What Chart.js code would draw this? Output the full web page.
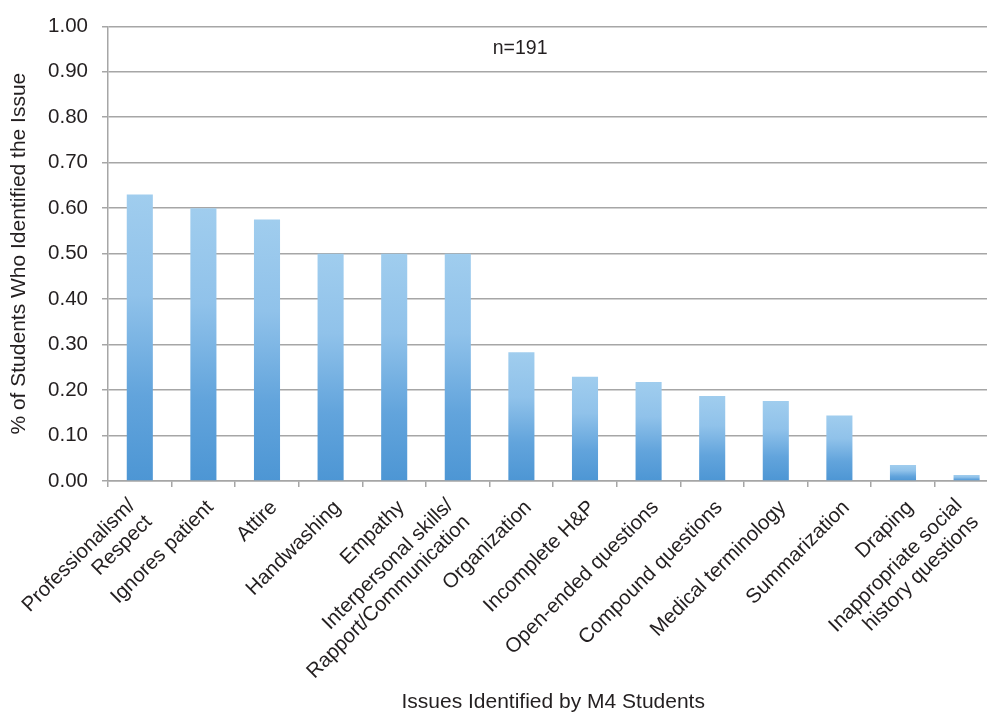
<!DOCTYPE html>
<html>
<head>
<meta charset="utf-8">
<script src="https://cdn.jsdelivr.net/npm/chart.js@4/dist/chart.umd.min.js"></script>
<style>
  html, body { margin: 0; padding: 0; background: #fff; overflow: hidden; }
  #wrap { position: relative; width: 1004px; height: 715px; }
</style>
</head>
<body>
<div id="wrap"><canvas id="c"></canvas></div>
<script>
const categories = [
  ["Professionalism/", "Respect"],
  "Ignores patient",
  "Attire",
  "Handwashing",
  "Empathy",
  ["Interpersonal skills/", "Rapport/Communication"],
  "Organization",
  "Incomplete H&P",
  "Open-ended questions",
  "Compound questions",
  "Medical terminology",
  "Summarization",
  "Draping",
  ["Inappropriate social", "history questions"]
];
const shareIdentified = [0.63, 0.60, 0.575, 0.50, 0.50, 0.50, 0.283, 0.229, 0.218, 0.187, 0.176, 0.144, 0.035, 0.013];
const yTicks = [0, 0.1, 0.2, 0.3, 0.4, 0.5, 0.6, 0.7, 0.8, 0.9, 1.0];
const noteText = "n=191";
const yTitle = "% of Students Who Identified the Issue";
const xTitle = "Issues Identified by M4 Students";

const FONT = "'Liberation Sans', Arial, Helvetica, sans-serif";
const TEXT = "#231f20";
const GRID = "#a6a6a6";

function barGradient(ctx) {
  const chart = ctx.chart;
  if (!chart.chartArea || ctx.type !== 'data') return '#7ab3e2';
  const y = chart.scales.y;
  const top = y.getPixelForValue(ctx.raw);
  const base = y.getPixelForValue(0);
  if (!isFinite(top) || !isFinite(base) || top === base) return '#7ab3e2';
  const g = chart.ctx.createLinearGradient(0, top, 0, base);
  g.addColorStop(0, '#a0cdee');
  g.addColorStop(0.35, '#90c2ea');
  g.addColorStop(0.7, '#62a4dc');
  g.addColorStop(1, '#4d96d4');
  return g;
}

// Nudge rotated category labels: centre multi-line blocks on their tick
const labelNudge = {
  id: 'labelNudge',
  beforeDraw(chart) {
    const scale = chart.scales.x;
    const items = scale.getLabelItems();
    const s = Math.SQRT1_2;
    items.forEach(it => {
      if (it._nudged) return;
      it._nudged = true;
      const n = Array.isArray(it.label) ? it.label.length : 1;
      const lh = it.font.lineHeight;
      let dx = 7, dy = 5;
      if (n > 1) {
        it.textOffset -= (n - 1) * lh / 2;
        dx += -9 * s; dy += 9 * s;
      }
      it.options.translation = [it.options.translation[0] + dx, it.options.translation[1] + dy];
    });
  }
};

const notePlugin = {
  id: 'note',
  afterDraw(chart) {
    const c = chart.ctx;
    const x = chart.scales.x.getPixelForValue(5.98);
    const y = chart.scales.y.getPixelForValue(0.952);
    c.save();
    c.font = "19.5px " + FONT;
    c.fillStyle = TEXT;
    c.textAlign = 'center';
    c.textBaseline = 'middle';
    c.fillText(noteText, x, y);
    c.restore();
  }
};

new Chart(document.getElementById('c'), {
  type: 'bar',
  data: {
    labels: categories,
    datasets: [{
      data: shareIdentified,
      backgroundColor: barGradient,
      borderWidth: 0,
      barPercentage: 0.41,
      categoryPercentage: 1.0
    }]
  },
  options: {
    responsive: true,
    maintainAspectRatio: false,
    animation: false,
    layout: { padding: { top: 22, right: 2, left: 1, bottom: 0 } },
    plugins: {
      legend: { display: false },
      tooltip: { enabled: false }
    },
    scales: {
      x: {
        offset: true,
        afterFit(scale) { scale.height = 715 - 481; },
        grid: {
          display: true,
          offset: true,
          drawOnChartArea: false,
          drawTicks: true,
          tickLength: 6,
          color: GRID,
          lineWidth: 1.5
        },
        border: { display: true, color: GRID, width: 1.5 },
        ticks: {
          autoSkip: false,
          minRotation: 45,
          maxRotation: 45,
          padding: 4,
          color: TEXT,
          font: { family: FONT, size: 20.5, lineHeight: 1.15 }
        },
        title: {
          display: true,
          text: xTitle,
          color: TEXT,
          font: { family: FONT, size: 21, lineHeight: 1.2 },
          padding: { top: 0, bottom: 0 }
        }
      },
      y: {
        min: 0,
        max: 1,
        afterFit(scale) { scale.width = 107; },
        afterBuildTicks(scale) { scale.ticks = yTicks.map(v => ({ value: v })); },
        grid: {
          color: GRID,
          lineWidth: 1.5,
          drawTicks: true,
          tickLength: 6
        },
        border: { display: true, color: GRID, width: 1.5 },
        ticks: {
          padding: 14,
          color: TEXT,
          font: { family: FONT, size: 20.5 },
          callback: (v) => Number(v).toFixed(2)
        },
        title: {
          display: true,
          text: yTitle,
          color: TEXT,
          font: { family: FONT, size: 21, lineHeight: 1.2 },
          padding: { top: 6, bottom: 0 }
        }
      }
    }
  },
  plugins: [labelNudge, notePlugin]
});
</script>
</body>
</html>
